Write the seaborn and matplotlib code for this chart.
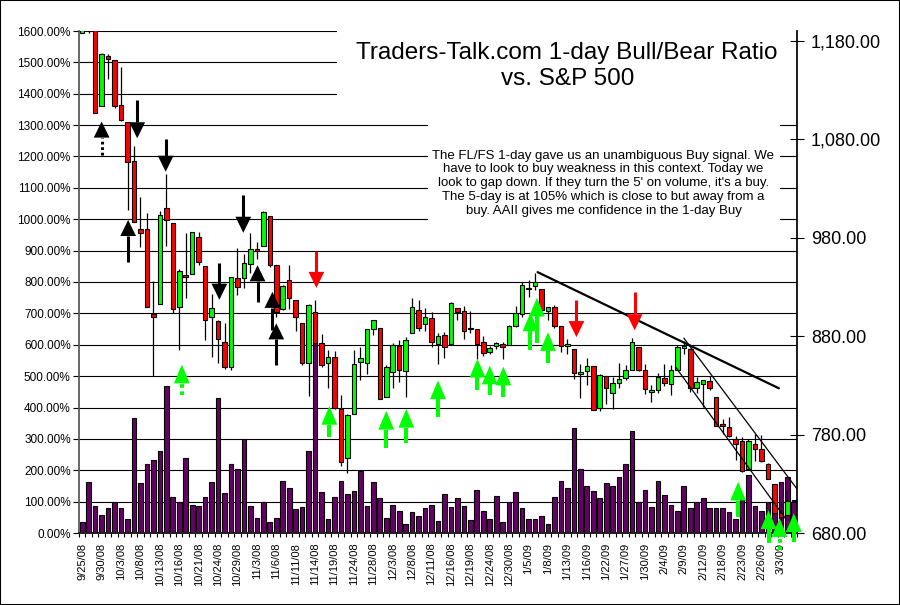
import matplotlib
matplotlib.use("Agg")
import matplotlib.pyplot as plt
from matplotlib.patches import Rectangle
import numpy as np
import pandas as pd
import seaborn as sns

# trading days 9/25/08 .. 3/5/09
dates = ["9/25/08", "9/26/08", "9/29/08", "9/30/08", "10/1/08", "10/2/08", "10/3/08",
         "10/6/08", "10/7/08", "10/8/08", "10/9/08", "10/10/08", "10/13/08", "10/14/08",
         "10/15/08", "10/16/08", "10/17/08", "10/20/08", "10/21/08", "10/22/08", "10/23/08",
         "10/24/08", "10/27/08", "10/28/08", "10/29/08", "10/30/08", "10/31/08", "11/3/08",
         "11/4/08", "11/5/08", "11/6/08", "11/7/08", "11/10/08", "11/11/08", "11/12/08",
         "11/13/08", "11/14/08", "11/17/08", "11/18/08", "11/19/08", "11/20/08", "11/21/08",
         "11/24/08", "11/25/08", "11/26/08", "11/28/08", "12/1/08", "12/2/08", "12/3/08",
         "12/4/08", "12/5/08", "12/8/08", "12/9/08", "12/10/08", "12/11/08", "12/12/08",
         "12/15/08", "12/16/08", "12/17/08", "12/18/08", "12/19/08", "12/22/08", "12/23/08",
         "12/24/08", "12/26/08", "12/29/08", "12/30/08", "12/31/08", "1/2/09", "1/5/09",
         "1/6/09", "1/7/09", "1/8/09", "1/9/09", "1/12/09", "1/13/09", "1/14/09", "1/15/09",
         "1/16/09", "1/20/09", "1/21/09", "1/22/09", "1/23/09", "1/26/09", "1/27/09",
         "1/28/09", "1/29/09", "1/30/09", "2/2/09", "2/3/09", "2/4/09", "2/5/09", "2/6/09",
         "2/9/09", "2/10/09", "2/11/09", "2/12/09", "2/13/09", "2/17/09", "2/18/09",
         "2/19/09", "2/20/09", "2/23/09", "2/24/09", "2/25/09", "2/26/09", "2/27/09",
         "3/2/09", "3/3/09", "3/4/09", "3/5/09"]

# 1-day bull/bear ratio (%)
ratio = [34, 161, 86, 57, 81, 100, 81, 44, 366, 159, 219, 234, 260, 467, 115, 100, 238,
         89, 86, 115, 161, 429, 127, 219, 203, 299, 86, 49, 100, 34, 49, 167, 145, 76, 84,
         260, 620, 130, 44, 115, 167, 124, 133, 198, 86, 161, 113, 49, 89, 69, 29, 66, 55,
         81, 89, 37, 123, 84, 113, 86, 40, 138, 69, 46, 118, 34, 100, 130, 81, 46, 46, 55,
         29, 115, 167, 145, 334, 203, 150, 135, 113, 159, 150, 179, 219, 326, 100, 138, 84,
         167, 121, 89, 69, 150, 81, 100, 113, 81, 81, 81, 66, 46, 110, 184, 86, 69, 100, 90,
         162, 180, 100]

# S&P 500 daily OHLC
opens = [1187.87, 1204.47, 1209.07, 1113.78, 1164.17, 1160.64, 1115.16, 1097.56, 1057.60,
         988.91, 988.42, 902.31, 912.75, 1009.97, 994.60, 909.53, 942.29, 943.51, 980.40,
         951.67, 899.08, 895.22, 874.28, 848.92, 939.51, 939.38, 953.11, 968.67, 971.31,
         1001.84, 952.40, 907.44, 936.75, 917.15, 893.39, 853.13, 904.36, 873.23, 852.34,
         859.03, 805.87, 755.84, 801.20, 853.40, 852.90, 886.89, 888.61, 817.94, 843.60,
         869.75, 844.43, 882.71, 906.48, 892.17, 898.35, 871.79, 881.07, 871.53, 908.16,
         905.98, 886.96, 887.20, 874.31, 863.87, 869.51, 872.37, 870.58, 890.59, 902.99,
         929.17, 931.17, 927.45, 905.73, 909.91, 890.40, 869.79, 867.28, 841.99, 844.45,
         849.64, 806.77, 839.74, 822.16, 832.50, 837.30, 845.73, 868.89, 845.69, 823.09,
         825.69, 837.77, 831.75, 846.09, 868.24, 866.87, 827.41, 830.95, 833.95, 818.61,
         791.06, 787.91, 775.87, 773.25, 744.69, 770.64, 765.76, 749.93, 729.57, 700.76,
         698.60, 712.87]
highs = [1220.03, 1215.77, 1209.07, 1168.03, 1167.03, 1160.64, 1153.82, 1097.56, 1072.91,
         1021.06, 1005.25, 936.36, 1006.93, 1044.31, 994.60, 947.71, 984.64, 985.40, 985.44,
         951.67, 922.83, 896.30, 893.78, 940.51, 969.97, 963.23, 984.38, 975.57, 1007.51,
         1001.84, 952.40, 931.46, 951.95, 917.15, 893.39, 913.01, 916.88, 882.29, 865.90,
         864.57, 820.52, 801.20, 865.60, 868.94, 887.68, 896.25, 888.61, 850.54, 873.12,
         875.60, 879.42, 918.57, 916.26, 908.27, 904.63, 883.24, 884.63, 914.66, 908.16,
         911.02, 905.47, 887.37, 880.44, 869.79, 873.74, 873.70, 891.12, 910.32, 934.73,
         936.63, 943.85, 927.45, 910.00, 911.93, 890.40, 877.02, 867.28, 851.59, 858.13,
         849.64, 841.72, 839.74, 838.61, 852.53, 850.45, 877.86, 868.89, 851.66, 830.78,
         842.60, 851.85, 850.55, 870.75, 875.01, 868.05, 838.22, 835.13, 839.43, 818.61,
         796.17, 797.58, 778.69, 777.85, 775.49, 780.12, 779.42, 751.27, 729.57, 711.67,
         724.12, 712.87]
lows = [1187.87, 1187.54, 1106.42, 1113.78, 1140.77, 1111.43, 1098.14, 1007.97, 996.23,
        970.97, 909.19, 839.80, 912.75, 972.07, 903.99, 865.83, 918.74, 943.51, 952.47,
        875.81, 858.44, 852.85, 846.75, 845.27, 922.26, 928.50, 944.59, 958.82, 971.31,
        949.86, 899.73, 906.90, 907.47, 884.90, 850.48, 818.69, 869.88, 848.98, 826.84,
        806.18, 747.78, 741.02, 801.20, 834.99, 841.37, 881.21, 815.69, 817.94, 827.60,
        833.60, 818.41, 882.71, 885.38, 885.45, 868.73, 851.35, 857.72, 871.53, 895.94,
        877.44, 883.02, 857.09, 860.10, 861.44, 866.52, 857.07, 870.58, 889.67, 899.35,
        919.53, 927.28, 902.37, 896.81, 888.31, 864.32, 862.02, 836.93, 817.04, 830.66,
        804.47, 804.30, 811.29, 806.07, 827.69, 835.40, 845.73, 844.15, 821.67, 812.87,
        821.98, 829.18, 819.91, 845.42, 861.65, 822.99, 822.30, 808.06, 825.21, 789.17,
        780.43, 777.03, 754.25, 742.37, 744.69, 752.89, 751.75, 734.52, 699.70, 692.86,
        698.60, 712.87]
closes = [1209.18, 1213.27, 1106.39, 1166.36, 1161.06, 1114.28, 1099.23, 1056.89, 996.23,
          984.94, 909.92, 899.22, 1003.35, 998.01, 907.84, 946.43, 940.55, 985.40, 955.05,
          896.78, 908.11, 876.77, 848.92, 940.51, 930.09, 954.09, 968.75, 966.30, 1005.75,
          952.77, 904.88, 930.99, 919.21, 898.95, 852.30, 911.29, 873.29, 850.75, 859.12,
          806.58, 752.44, 800.03, 851.81, 857.39, 887.68, 896.24, 816.21, 848.81, 870.74,
          845.22, 876.07, 909.70, 888.67, 899.24, 873.59, 879.73, 868.57, 913.18, 904.42,
          885.28, 887.88, 871.63, 863.16, 868.15, 872.80, 869.42, 890.64, 903.25, 931.80,
          927.45, 934.70, 906.65, 909.73, 890.35, 870.26, 871.79, 842.62, 843.74, 850.12,
          805.22, 840.24, 827.50, 831.95, 836.57, 845.71, 874.09, 845.14, 825.88, 825.44,
          838.51, 832.23, 845.85, 868.60, 869.89, 827.16, 833.74, 835.19, 826.84, 789.17,
          788.42, 778.94, 770.05, 743.33, 773.14, 764.90, 752.83, 735.09, 700.82, 696.33,
          712.87, 712.87]

# signal arrows: position (day index), tail and tip on the S&P scale
arrow_x = [3, 8.5, 12.9, 7.1, 21.2, 24.9, 27.1, 29.4, 30, 36.2, 76.4, 85.4, 15.4, 38.2,
           47, 50.1, 55, 61.1, 63, 65.1, 69.3, 70.3, 72, 101.4, 106.1, 107.8, 110]
arrow_tail = [1064, 1120, 1080, 955, 954, 1023, 915, 886, 851, 967, 917, 925, 820, 778,
              766, 771, 798, 825, 820, 818, 866, 873, 853, 696, 670, 663, 671]
arrow_tip = [1098, 1081, 1047, 998, 917, 985, 952, 925, 893, 929, 879, 886, 851, 809,
             804, 806, 835, 857, 850, 849, 904, 919, 884, 732, 703, 695, 700]
arrow_color = ["black"] * 9 + ["#FF0000"] * 3 + ["#00FF00"] * 15
arrow_dotted = [True] + [False] * 11 + [True] + [False] * 12 + [True, True, False]
arrow_dotted[25] = True
arrow_dotted[26] = False

# trend lines (day index, S&P value)
trend_x = [[70.4, 107.7], [93, 110.7], [91.8, 108.8]]
trend_y = [[945, 827], [878, 723], [848, 694]]
trend_w = [1.6, 0.9, 0.9]

title = "Traders-Talk.com 1-day Bull/Bear Ratio\nvs. S&P 500"
note = ("The FL/FS 1-day gave us an unambiguous Buy signal. We\n"
        "have to look to buy weakness in this context. Today we\n"
        "look to gap down. If they turn the 5' on volume, it's a buy.\n"
        "The 5-day is at 105% which is close to but away from a\n"
        "buy. AAII gives me confidence in the 1-day Buy")

sns.set_theme(style="white")
plt.rcParams['font.family'] = ['Liberation Sans', 'DejaVu Sans']

fig = plt.figure(figsize=(9, 6.05), dpi=100)
ax = fig.add_axes([79 / 900, 72 / 605, 718 / 900, 502 / 605])

df = pd.DataFrame({"date": dates, "ratio": ratio})
sns.barplot(data=df, x="date", y="ratio", color="#660066", saturation=1, width=0.72,
            edgecolor="black", linewidth=0.8, errorbar=None, ax=ax)

ax.set_xlim(-0.5, len(dates) - 0.5)
ax.set_ylim(0, 1600)
ax.set_xlabel("")
ax.set_ylabel("")
ax.set_yticks(range(0, 1601, 100))
ax.set_yticklabels([f"{v:.2f}%" for v in range(0, 1601, 100)])
ax.yaxis.grid(True, color="black", linewidth=0.8)
ax.set_axisbelow(True)
ax.set_xticks(range(0, len(dates), 3))
ax.set_xticklabels(dates[::3], rotation=90)
ax.set_xticks(np.arange(-0.5, len(dates), 1), minor=True)
ax.tick_params(axis="x", which="major", length=0, labelsize=8, pad=7, colors="black")
ax.tick_params(axis="x", which="minor", length=3, width=0.8, color="black", bottom=True)
ax.tick_params(axis="y", length=4, width=0.8, labelsize=8.5, pad=2, colors="black", left=True)
for s in ["top", "right"]:
    ax.spines[s].set_visible(False)
ax.spines["left"].set_color("#555555")
ax.spines["bottom"].set_color("black")

# white boxes behind the texts hide the grid
ax.add_patch(Rectangle((0.359, 0.85), 0.641, 0.16, transform=ax.transAxes,
                       facecolor="white", edgecolor="none", zorder=0.9, clip_on=False))
ax.add_patch(Rectangle((0.486, 0.594), 0.49, 0.225, transform=ax.transAxes,
                       facecolor="white", edgecolor="none", zorder=0.9))

ax2 = ax.twinx()
ax2.set_ylim(680, 1190)
ax2.set_yticks(range(680, 1181, 100))
ax2.set_yticklabels([f"{v:,.2f}" for v in range(680, 1181, 100)])
ax2.tick_params(axis="y", direction="inout", length=10, width=0.8, labelsize=13, pad=5,
                colors="black", right=True)
for s in ["top", "left"]:
    ax2.spines[s].set_visible(False)
ax2.spines["right"].set_color("black")
ax2.grid(False)

x = np.arange(len(dates))
o = np.array(opens)
c = np.array(closes)
body_bottom = np.minimum(o, c)
body_h = np.maximum(np.abs(c - o), 0.9)
cols = np.where(c >= o, "#00FF00", "#FF0000")
ax2.vlines(x, lows, highs, color="black", linewidth=0.9, zorder=2)
ax2.bar(x, body_h, bottom=body_bottom, width=0.7, color=cols, edgecolor="black",
        linewidth=0.8, zorder=3)

for tx, ty, tw in zip(trend_x, trend_y, trend_w):
    ax2.plot(tx, ty, color="black", linewidth=tw, zorder=4)

# arrows
hw = 1.22
for ax_x, tail, tip, col, dot in zip(arrow_x, arrow_tail, arrow_tip, arrow_color, arrow_dotted):
    green = col == "#00FF00"
    hl = 19 if green else 16.3
    sgn = 1 if tip > tail else -1
    base = tip - sgn * hl
    ls = (0, (0.9, 0.9)) if dot else "-"
    ax2.plot([ax_x, ax_x], [tail, base], color=col, linewidth=2.9 if green else 2.2,
             linestyle=ls, solid_capstyle="butt", zorder=6, clip_on=False)
    ax2.fill([ax_x - hw, ax_x + hw, ax_x], [base, base, tip], color=col, zorder=6,
             clip_on=False, linewidth=0)

ax.text(0.68, 0.93, title, transform=ax.transAxes, ha="center", va="center",
        fontsize=17.5, linespacing=1.25, color="black", zorder=5)
ax.text(0.7305, 0.697, note, transform=ax.transAxes, ha="center", va="center",
        fontsize=9.5, linespacing=1.2, color="black", zorder=5)

fig.patches.append(Rectangle((0, 0), 1, 1, transform=fig.transFigure, fill=False,
                             edgecolor="black", linewidth=1.5))

fig.savefig("out.png", dpi=100, facecolor="white")
